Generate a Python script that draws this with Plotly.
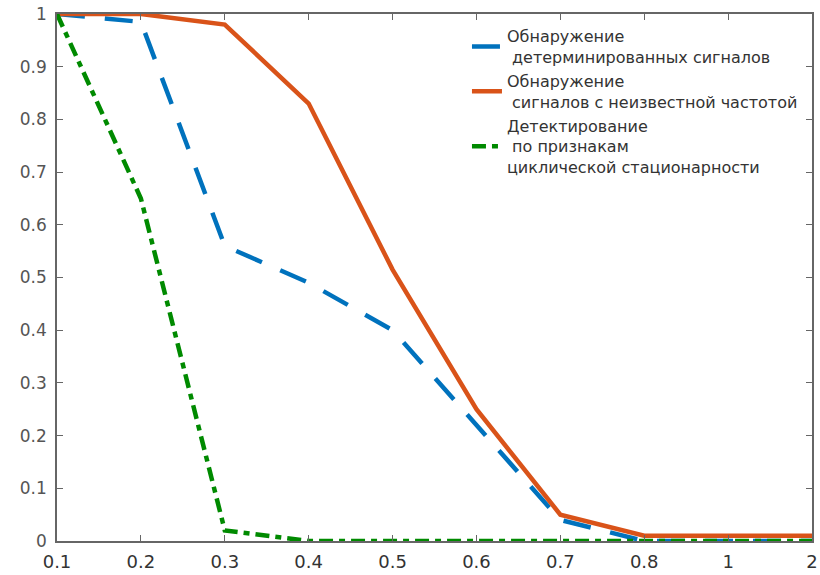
import plotly.graph_objects as go

categories = ["0.1", "0.2", "0.3", "0.4", "0.5", "0.6", "0.7", "0.8", "1", "2"]
det_signals = [1.0, 0.985, 0.56, 0.49, 0.40, 0.22, 0.04, 0.0, 0.0, 0.0]
unknown_freq = [1.0, 1.0, 0.98, 0.83, 0.515, 0.25, 0.05, 0.01, 0.01, 0.01]
cyclo = [1.0, 0.65, 0.02, 0.0, 0.0, 0.0, 0.0, 0.0, 0.0, 0.0]
y_ticks = [0, 0.1, 0.2, 0.3, 0.4, 0.5, 0.6, 0.7, 0.8, 0.9, 1]
y_ticktext = ["0", "0.1", "0.2", "0.3", "0.4", "0.5", "0.6", "0.7", "0.8", "0.9", "1"]

names = [
    "Обнаружение<br> детерминированных сигналов",
    "Обнаружение<br> сигналов с неизвестной частотой",
    "Детектирование<br> по признакам<br>циклической стационарности",
]

fig = go.Figure()
fig.add_trace(go.Scatter(x=categories, y=det_signals, mode="lines", name=names[0],
                         line=dict(color="#0072BD", width=4.5, dash="28px,20px")))
fig.add_trace(go.Scatter(x=categories, y=unknown_freq, mode="lines", name=names[1],
                         line=dict(color="#D95319", width=4.5)))
fig.add_trace(go.Scatter(x=categories, y=cyclo, mode="lines", name=names[2],
                         line=dict(color="#008A00", width=4.5, dash="14px,6px,6px,6px")))

axis_common = dict(showline=True, linecolor="#666", linewidth=1.5, mirror="ticks",
                   ticks="inside", ticklen=6, tickcolor="#666", showgrid=False, zeroline=False,
                   automargin=False)

fig.update_layout(
    width=820, height=575,
    margin=dict(l=57, r=8, t=14, b=34),
    paper_bgcolor="white", plot_bgcolor="white",
    xaxis=dict(type="category", range=[0, 9], ticklabelstandoff=4,
               tickfont=dict(family="DejaVu Sans", size=18, color="#333"), **axis_common),
    yaxis=dict(range=[0, 1], tickvals=y_ticks, ticktext=y_ticktext, ticklabelstandoff=5,
               tickfont=dict(family="DejaVu Sans", size=17, color="#555"), **axis_common),
    legend=dict(x=0.543, y=0.99, xanchor="left", yanchor="top", bgcolor="rgba(0,0,0,0)",
                font=dict(family="DejaVu Sans", size=16, color="#333"), tracegroupgap=0),
    showlegend=True,
)

fig.write_html("out.html")
